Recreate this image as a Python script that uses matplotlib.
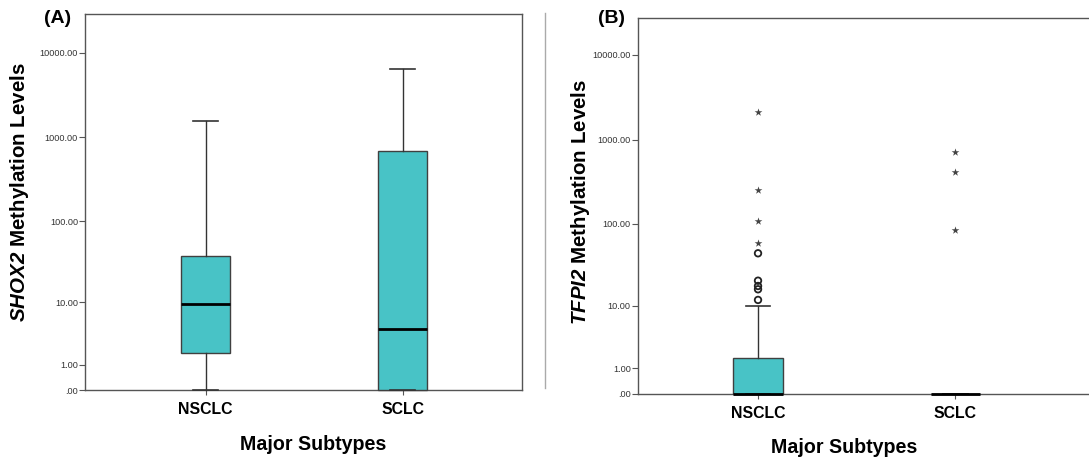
import numpy as np
import matplotlib
matplotlib.use("Agg")
import matplotlib.pyplot as plt
from matplotlib.lines import Line2D

plt.rcParams['font.family'] = ['Liberation Sans', 'DejaVu Sans']
plt.rcParams['mathtext.fontset'] = 'custom'
plt.rcParams['mathtext.bfit'] = 'Liberation Sans:italic:bold'
plt.rcParams['mathtext.bf'] = 'Liberation Sans:bold'

# data
subtypes = ['NSCLC', 'SCLC']
ytick_vals = [0, 1, 10, 100, 1000, 10000]
ytick_labels = ['.00', '1.00', '10.00', '100.00', '1000.00', '10000.00']

# (A) SHOX2: whislo, q1, med, q3, whishi
shox2_whislo = [0, 0]
shox2_q1 = [1.75, 0]
shox2_med = [9.4, 4.3]
shox2_q3 = [38, 680]
shox2_whishi = [1550, 6370]

# (B) TFPI2
tfpi2_whislo = [0, 0]
tfpi2_q1 = [0, 0]
tfpi2_med = [0, 0]
tfpi2_q3 = [1.66, 0]
tfpi2_whishi = [10.0, 0]
tfpi2_circles = [[11.8, 16.1, 17.7, 20.6, 44.5], []]
tfpi2_stars = [[58.7, 109, 251, 2117], [84.7, 410, 718]]

box_face = '#48C3C6'
edge_col = '#404040'
spine_col = '#555555'


def fwd(y):
    return np.log10(np.clip(y, -0.999999, None) + 1)


def inv(y):
    return 10 ** y - 1


def make_stats(whislo, q1, med, q3, whishi):
    stats = []
    for i in range(len(med)):
        stats.append(dict(whislo=whislo[i], q1=q1[i], med=med[i], q3=q3[i],
                          whishi=whishi[i], fliers=[]))
    return stats


def draw_boxes(ax, stats):
    arts = ax.bxp(stats, positions=[1, 2], widths=0.25, patch_artist=True,
                  showfliers=False, manage_ticks=False,
                  boxprops=dict(facecolor=box_face, edgecolor=edge_col, linewidth=1.0),
                  whiskerprops=dict(color='#333333', linewidth=1.0),
                  capprops=dict(color='#333333', linewidth=1.2),
                  medianprops=dict(color='black', linewidth=2.0))
    for group in arts.values():
        for a in group:
            a.set_clip_on(False)


def style_axes(ax, top, xlim):
    ax.set_yscale('function', functions=(fwd, inv))
    ax.set_ylim(0, inv(top))
    ax.set_xlim(*xlim)
    ax.set_yticks(ytick_vals)
    ax.set_yticklabels(ytick_labels)
    ax.minorticks_off()
    ax.set_xticks([1, 2])
    ax.set_xticklabels(subtypes, fontsize=11.4, fontweight='bold')
    ax.tick_params(axis='y', direction='out', length=4.5, width=0.8,
                   color=spine_col, labelsize=6.6, labelcolor='#333333', pad=0.5)
    ax.tick_params(axis='x', direction='out', length=3.8, width=0.8,
                   color=spine_col, pad=5.0)
    for s in ax.spines.values():
        s.set_color(spine_col)
        s.set_linewidth(1.0)
        s.set_zorder(1)


fig = plt.figure(figsize=(10.89, 4.63), dpi=100)

# panel A
axA = fig.add_axes([85 / 1089, 73 / 463, 437 / 1089, 376 / 463])
draw_boxes(axA, make_stats(shox2_whislo, shox2_q1, shox2_med, shox2_q3, shox2_whishi))
style_axes(axA, 4.46, (0.387, 2.606))
axA.text(-0.15, 0.525, r'$\mathbfit{SHOX2}$ Methylation Levels', transform=axA.transAxes,
         rotation=90, ha='center', va='center', fontsize=14.8, fontweight='bold')
axA.text(0.522, -0.146, 'Major Subtypes', transform=axA.transAxes,
         ha='center', va='center', fontsize=14.1, fontweight='bold')
axA.text(-0.062, 0.987, '(A)', transform=axA.transAxes,
         ha='center', va='center', fontsize=14, fontweight='bold')

# panel B
axB = fig.add_axes([637.7 / 1089, 69.3 / 463, 451.3 / 1089, 376 / 463])
draw_boxes(axB, make_stats(tfpi2_whislo, tfpi2_q1, tfpi2_med, tfpi2_q3, tfpi2_whishi))
style_axes(axB, 4.44, (0.39, 2.678))
axB.spines['right'].set_visible(False)
for i, pos in enumerate([1, 2]):
    if tfpi2_circles[i]:
        axB.scatter([pos] * len(tfpi2_circles[i]), tfpi2_circles[i], marker='o',
                    s=22, facecolors='none', edgecolors='#222222', linewidths=1.3, zorder=4)
    if tfpi2_stars[i]:
        axB.scatter([pos] * len(tfpi2_stars[i]), tfpi2_stars[i], marker='*',
                    s=34, color='#444444', linewidths=0, zorder=4)
axB.text(-0.126, 0.511, r'$\mathbfit{TFPI2}$ Methylation Levels', transform=axB.transAxes,
         rotation=90, ha='center', va='center', fontsize=14.8, fontweight='bold')
axB.text(0.457, -0.142, 'Major Subtypes', transform=axB.transAxes,
         ha='center', va='center', fontsize=14.1, fontweight='bold')
axB.text(-0.059, 0.999, '(B)', transform=axB.transAxes,
         ha='center', va='center', fontsize=14, fontweight='bold')

# thin separator line between panels
fig.add_artist(Line2D([545 / 1089, 545 / 1089], [1 - 13 / 463, 1 - 388 / 463],
                      transform=fig.transFigure, color='#aaaaaa', linewidth=1.0))

fig.savefig('out.png', dpi=100)
